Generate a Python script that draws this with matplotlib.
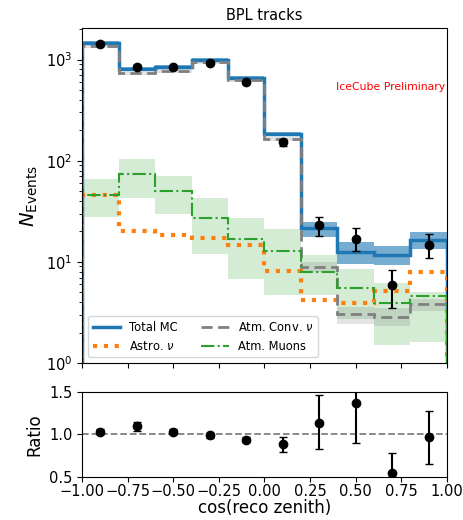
import numpy as np
import matplotlib
matplotlib.use("Agg")
import matplotlib.pyplot as plt

# bins in cos(reco zenith)
edges = np.linspace(-1, 1, 11)
centers = 0.5 * (edges[:-1] + edges[1:])

# MC components (events per bin)
total_mc = [1470, 815, 853, 1000, 663, 185, 21.6, 12.5, 11.7, 16.5]
total_lo = [1410, 785, 820, 960, 635, 176, 17.8, 9.5, 9.4, 13.5]
total_hi = [1530, 845, 885, 1040, 690, 194, 25.0, 15.7, 14.5, 19.7]

conv = [1350, 731, 770, 940, 630, 165, 8.9, 3.05, 2.85, 3.85]
conv_lo = [1300, 700, 740, 905, 605, 158, 7.9, 2.45, 2.3, 3.3]
conv_hi = [1400, 760, 800, 975, 655, 172, 9.9, 3.6, 3.5, 4.3]

astro = [46, 20.4, 18.5, 17.2, 14.7, 8.2, 4.15, 3.95, 5.1, 7.9]

muons = [46, 74, 50, 27, 16.9, 12.8, 8.0, 5.5, 3.9, 4.6]
muons_lo = [28, 43, 30, 12, 6.7, 4.7, 4.7, 2.7, 1.5, 1.6]
muons_hi = [66, 105, 70, 43, 27, 21, 11.7, 8.5, 6.2, 5.0]

# data
data = [1418, 853, 839, 934, 596, 153, 22.9, 16.9, 5.9, 14.8]
data_lo = [1380, 824, 810, 904, 572, 141, 17.9, 12.8, 3.5, 11.0]
data_hi = [1456, 882, 868, 964, 620, 165, 27.5, 21.5, 8.3, 18.9]

# data / MC ratio
ratio = [1.03, 1.10, 1.03, 0.99, 0.94, 0.89, 1.14, 1.375, 0.545, 0.965]
ratio_lo = [1.00, 1.04, 1.00, 0.96, 0.91, 0.79, 0.83, 0.90, 0.30, 0.65]
ratio_hi = [1.06, 1.15, 1.06, 1.02, 0.97, 0.97, 1.465, 1.85, 0.78, 1.28]

blue, orange, green, gray = "#1f77b4", "#ff7f0e", "#2ca02c", "gray"

fig = plt.figure(figsize=(4.64, 5.2), dpi=100)
ax = fig.add_axes([0.177, 0.302, 0.786, 0.644])
axr = fig.add_axes([0.177, 0.083, 0.786, 0.163])

base = 1e-3
# uncertainty bands
ax.stairs(muons_hi, edges, baseline=muons_lo, fill=True, color=green, alpha=0.2, lw=0)
ax.stairs(conv_hi, edges, baseline=conv_lo, fill=True, color=gray, alpha=0.22, lw=0)
ax.stairs(total_hi, edges, baseline=total_lo, fill=True, color=blue, alpha=0.6, lw=0)

ax.stairs(total_mc, edges, baseline=base, color=blue, lw=2.5, label="Total MC")
ax.stairs(astro, edges, baseline=base, color=orange, lw=3, ls=(0, (1, 1.6)), label=r"Astro. $\nu$")
ax.stairs(conv, edges, baseline=base, color=gray, lw=2, ls=(0, (4, 2)), label=r"Atm. Conv. $\nu$")
ax.stairs(muons, edges, baseline=base, color=green, lw=1.5, ls="-.", label="Atm. Muons")

d = np.array(data)
ax.errorbar(centers, d, yerr=[d - np.array(data_lo), np.array(data_hi) - d],
            fmt="o", color="black", ms=6, capsize=3, elinewidth=1.5, zorder=5)

ax.set_yscale("log")
ax.set_ylim(1, 2050)
ax.set_xlim(-1, 1)
ax.set_xticks(np.arange(-1, 1.01, 0.25))
ax.tick_params(labelbottom=False, labelsize=10.5)
ax.set_ylabel(r"$N_{\mathrm{Events}}$", fontsize=14)
ax.set_title("BPL tracks", fontsize=10.5)
ax.text(0.995, 0.825, "IceCube Preliminary", color="red", fontsize=7.8,
        ha="right", va="center", transform=ax.transAxes)
ax.legend(loc="lower left", ncol=2, fontsize=8.3, columnspacing=2.0,
          handlelength=2.4, borderaxespad=0.5)

r = np.array(ratio)
axr.errorbar(centers, r, yerr=[r - np.array(ratio_lo), np.array(ratio_hi) - r],
             fmt="o", color="black", ms=6, capsize=3, elinewidth=1.5, zorder=5)
axr.axhline(1.0, color="gray", ls="--", lw=1.3)
axr.set_xlim(-1, 1)
axr.set_ylim(0.5, 1.5)
axr.set_xticks(np.arange(-1, 1.01, 0.25))
axr.set_yticks([0.5, 1.0, 1.5])
axr.tick_params(labelsize=10.5)
axr.tick_params(axis="x", pad=1.5)
axr.set_ylabel("Ratio", fontsize=12)
axr.set_xlabel("cos(reco zenith)", fontsize=12, labelpad=0)

fig.align_ylabels([ax, axr])
fig.savefig("out.png", dpi=100)
